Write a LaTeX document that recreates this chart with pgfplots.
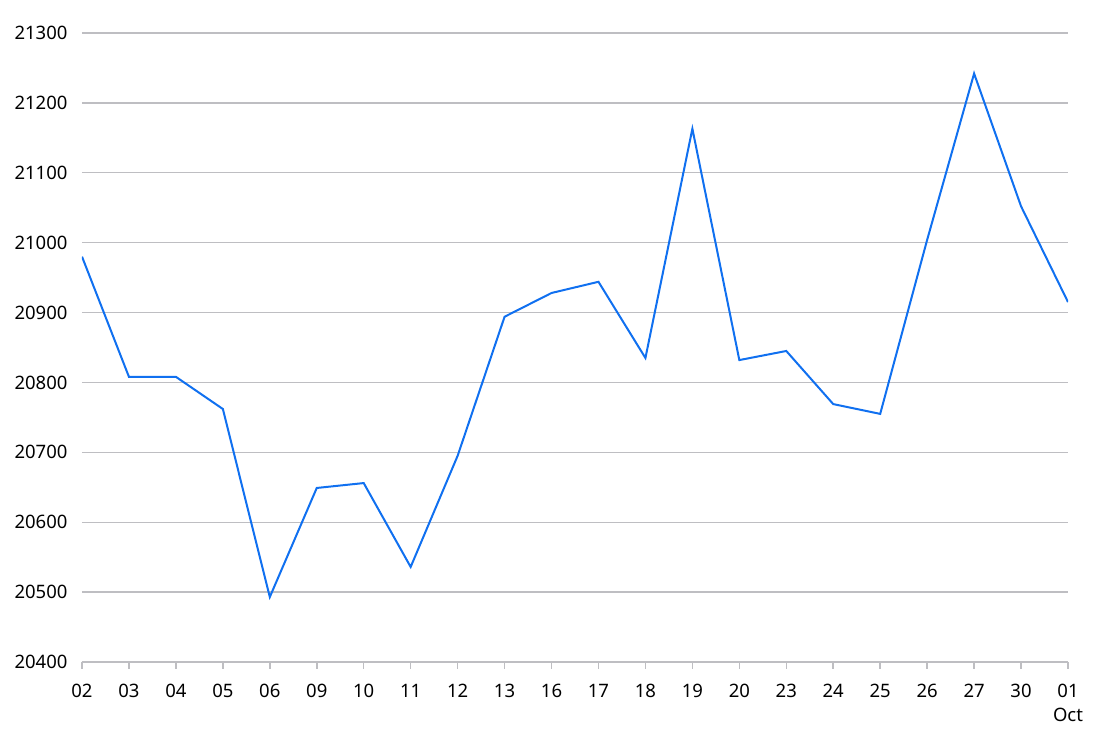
\documentclass[border=0pt]{standalone}
\usepackage{fontspec}
\setmainfont{Noto Sans}
\usepackage{pgfplots}
\pgfplotsset{compat=1.18}
\definecolor{lineblue}{RGB}{16,112,240}
\definecolor{gridgray}{RGB}{190,190,194}
\begin{document}
\begin{tikzpicture}
\begin{axis}[
    scale only axis,
    width=986pt, height=629pt,
    xmin=0, xmax=21,
    ymin=20400, ymax=21300,
    ytick={20400,20500,...,21300},
    scaled y ticks=false,
    xtick={0,...,21},
    xticklabels={02,03,04,05,06,09,10,11,12,13,16,17,18,19,20,23,24,25,26,27,30,{01\\Oct}},
    axis x line*=bottom,
    axis y line*=left,
    y axis line style={draw=none},
    x axis line style={draw=gridgray, line width=1.5pt},
    ytick style={draw=none},
    xtick style={draw=gridgray, line width=1.5pt},
    tick align=outside,
    major tick length=7pt,
    ymajorgrids,
    grid style={draw=gridgray, line width=1.4pt},
    tick label style={font=\fontsize{18.5}{24}\selectfont},
    xticklabel style={align=center, anchor=north, yshift=-12pt},
    yticklabel style={xshift=-4pt},
    /pgf/number format/assume math mode=true,
    /pgf/number format/1000 sep={},
    /pgf/number format/fixed,
]
\addplot[lineblue, line width=2pt, line join=miter] coordinates {
(0,20980) (1,20808) (2,20808) (3,20762) (4,20493) (5,20649) (6,20656)
(7,20536) (8,20695) (9,20894) (10,20928) (11,20944) (12,20835) (13,21163)
(14,20832) (15,20845) (16,20769) (17,20755) (18,21004) (19,21242) (20,21052)
(21,20915)};
\end{axis}
\path (current axis.south west) ++(-82pt,-74pt);
\path (current axis.north east) ++(30pt,33pt);
\end{tikzpicture}
\end{document}
